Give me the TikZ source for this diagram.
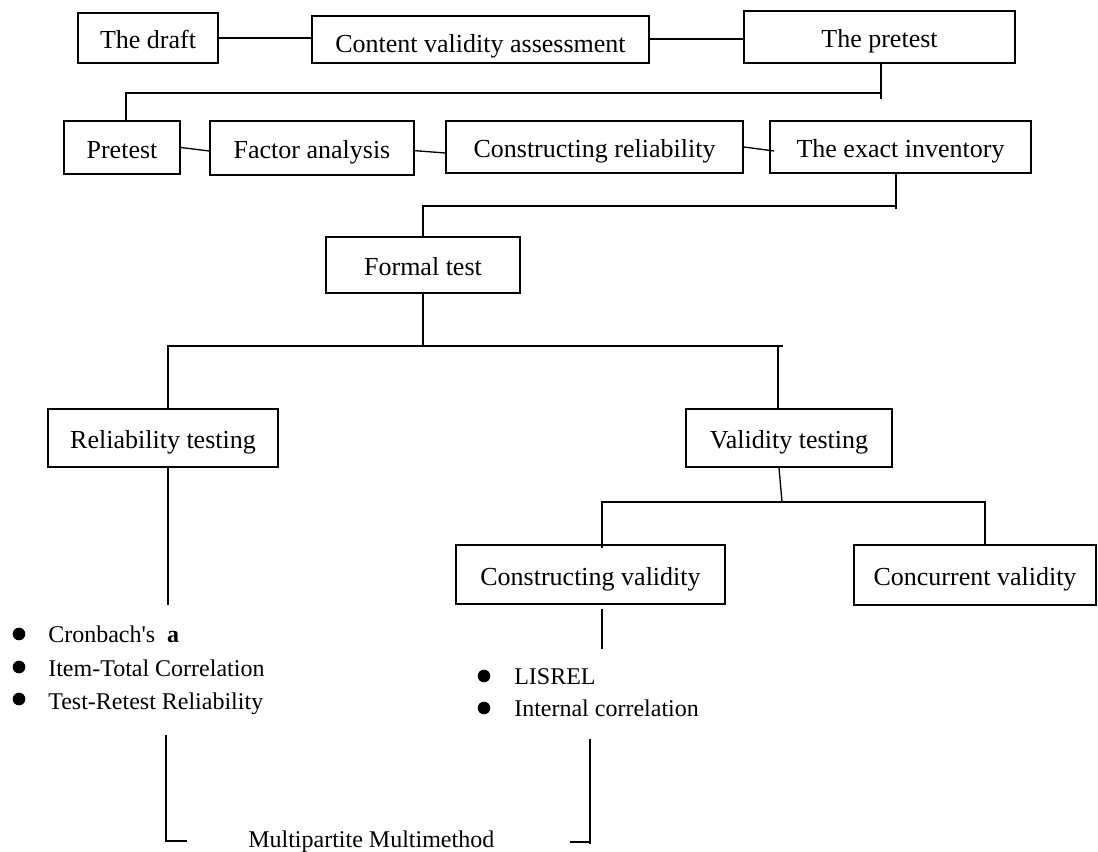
\documentclass[tikz,border=0pt]{standalone}
\usepackage{fontspec}
\setmainfont{Liberation Serif}
\tikzset{
  stage/.style={draw, line width=1.2pt, inner sep=0pt, text height=19pt, text depth=3pt,
    font=\fontsize{19.5}{23}\selectfont},
  link/.style={line width=1pt},
  dot/.style={circle, fill, inner sep=0pt, minimum size=9.5pt},
  item/.style={inner sep=0pt, anchor=base west, font=\fontsize{18}{22}\selectfont}
}
\begin{document}
\begin{tikzpicture}[x=0.75pt,y=0.75pt,yscale=-1,xscale=1]
            \useasboundingbox (0,0) rectangle (1098,852);
            % first row
            \node[stage, minimum width=105pt, minimum height=37.5pt] (draft) at (148,38) {The draft};
            \node[stage, minimum width=252.75pt, minimum height=35.25pt, text height=22pt, text depth=2pt] (cva) at (480.5,39.5) {Content validity assessment};
            \node[stage, minimum width=203.25pt, minimum height=39pt] (thepre) at (879.5,37) {The pretest};
            % second row
            \node[stage, minimum width=87pt, minimum height=39.75pt] (pre) at (122,147.5) {Pretest};
            \node[stage, minimum width=153pt, minimum height=40.5pt] (fa) at (312,148) {Factor analysis};
            \node[stage, minimum width=222.75pt, minimum height=39pt] (cr) at (594.5,147) {Constructing reliability};
            \node[stage, minimum width=195.75pt, minimum height=39pt] (exact) at (900.5,147) {The exact inventory};
            % formal test and its branches
            \node[stage, minimum width=145.5pt, minimum height=42pt] (formal) at (423,265) {Formal test};
            \node[stage, minimum width=172.5pt, minimum height=43.5pt] (rel) at (163,438) {Reliability testing};
            \node[stage, minimum width=154.5pt, minimum height=43.5pt] (val) at (789,438) {Validity testing};
            \node[stage, minimum width=201.75pt, minimum height=44.25pt] (cv) at (590.5,574.5) {Constructing validity};
            \node[stage, minimum width=181.5pt, minimum height=45pt] (conc) at (975,575) {Concurrent validity};

            % connectors
            \draw[link] (draft.east) -- (draft.east -| cva.west);
            \draw[link] ([yshift=-0.4pt]cva.east) -- ([yshift=-0.4pt]cva.east -| thepre.west);
            \coordinate (k1) at (881,93);
            \draw[link] ([xshift=1pt]thepre.south) -- ++(0,35);
            \draw[link] (k1) -| ([xshift=3pt]pre.north);
            \draw[link] (pre.east) -- ([yshift=2.25pt]fa.west);
            \draw[link] ([yshift=2pt]fa.east) -- ([yshift=4.5pt]cr.west);
            \draw[link] (cr.east) -- ([xshift=3.75pt,yshift=3pt]exact.west);
            \coordinate (k2) at (896,206);
            \draw[link] ([xshift=-3.4pt]exact.south) -- ++(0,35);
            \draw[link] (k2) -| (formal.north);
            \coordinate (k3) at (783,346);
            \draw[link] (formal.south) -- (formal.south |- k3);
            \draw[link] ([xshift=3.75pt]rel.north) |- (k3);
            \draw[link] ([xshift=-8.25pt]val.north) -- ++(0,-63);
            \draw[link] ([xshift=3.75pt]rel.south) -- ++(0,137);
            \coordinate (k4) at (782,502);
            \draw[link] ([xshift=-7.5pt]val.south) -- (k4);
            \draw[link] ([xshift=8.6pt,yshift=3pt]cv.north) |- ([xshift=7.5pt]conc.north |- k4) -- ([xshift=7.5pt,yshift=1.5pt]conc.north);
            \draw[link] ([xshift=8.6pt,yshift=3pt]cv.south) -- ++(0,40);

            % methods
            \node[dot] (d1) at (19,634) {};
            \node[dot] (d2) at (19,667) {};
            \node[dot] (d3) at (19,699) {};
            \node[item] (m1) at (48,642) {Cronbach\textquotesingle s\ \ \textbf{a}};
            \node[item] (m2) at (48,676) {Item-Total Correlation};
            \node[item] (m3) at (48,709) {Test-Retest Reliability};
            \node[dot] (d4) at (484,676) {};
            \node[dot] (d5) at (484,708) {};
            \node[item] (m4) at (514,684) {LISREL};
            \node[item] (m5) at (514,716) {Internal correlation};
            \node[item] (mm) at (248,847) {Multipartite Multimethod};

            % brackets to the last label
            \coordinate (b1) at (166,735);
            \coordinate (b2) at (187,841);
            \draw[link] (b1) |- (b2);
            \coordinate (b3) at (590,739);
            \coordinate (b4) at (570,842);
            \draw[link] (b3) -- ++(0,105);
            \draw[link] (b4) -- (b4 -| b3);
\end{tikzpicture}
\end{document}
